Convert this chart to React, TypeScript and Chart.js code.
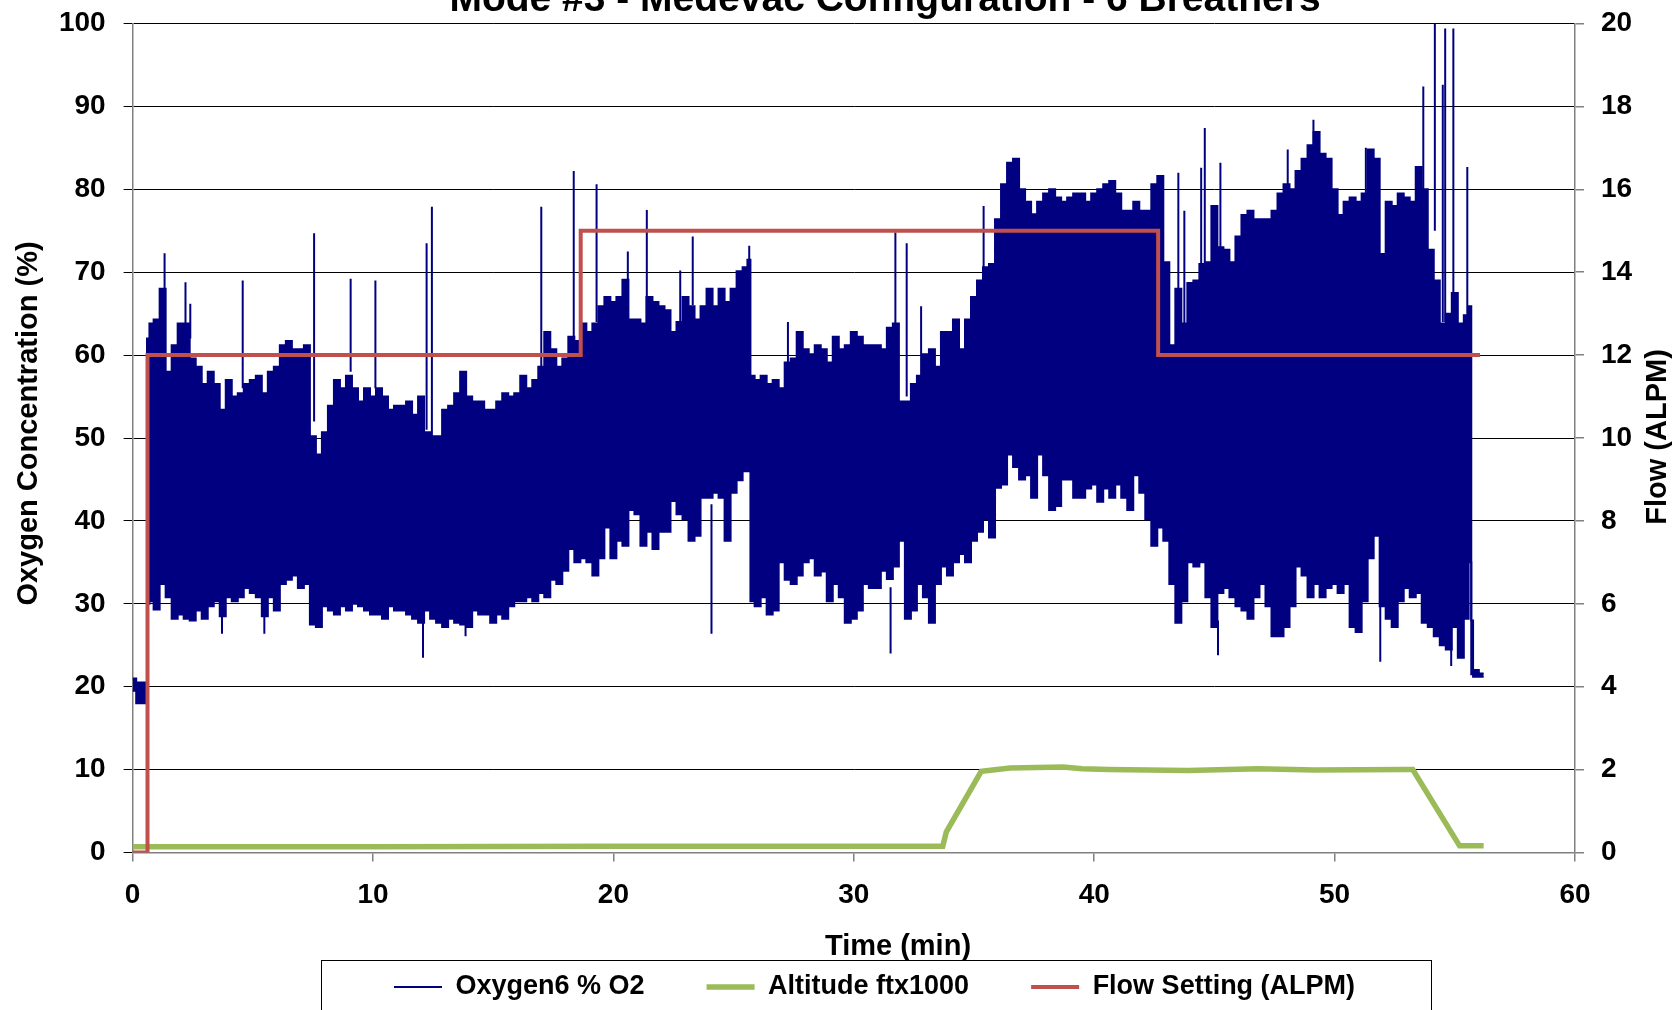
import React, { useEffect, useRef } from 'react';
import { Chart, registerables } from 'chart.js';

Chart.register(...registerables);

// ---------------- text ----------------
const CHART_TITLE = 'Mode #3 - Medevac Configuration - 6 Breathers';
const X_TITLE = 'Time (min)';
const Y_TITLE = 'Oxygen Concentration (%)';
const Y2_TITLE = 'Flow (ALPM)';
const SERIES_O2 = 'Oxygen6 % O2';
const SERIES_ALT = 'Altitude ftx1000';
const SERIES_FLOW = 'Flow Setting (ALPM)';

// ---------------- data ----------------
// Oxygen trace (dense breathing oscillation) read as upper / lower envelope (%)
const O2_TIME = [
  0, 0.3, 0.55, 0.65, 0.75,
  1, 1.25, 1.5, 1.75,
  2, 2.25, 2.5, 2.75,
  3, 3.25, 3.5, 3.75,
  4, 4.25, 4.5, 4.75,
  5, 5.25, 5.5, 5.75,
  6, 6.25, 6.5, 6.75,
  7, 7.25, 7.5, 7.75,
  8, 8.25, 8.5, 8.75,
  9, 9.25, 9.5, 9.75,
  10, 10.25, 10.5, 10.75,
  11, 11.25, 11.5, 11.75,
  12, 12.25, 12.5, 12.75,
  13, 13.25, 13.5, 13.75,
  14, 14.25, 14.5, 14.75,
  15, 15.25, 15.5, 15.75,
  16, 16.25, 16.5, 16.75,
  17, 17.25, 17.5, 17.75,
  18, 18.25, 18.5, 18.75,
  19, 19.25, 19.5, 19.75,
  20, 20.25, 20.5, 20.75,
  21, 21.25, 21.5, 21.75,
  22, 22.25, 22.5, 22.75,
  23, 23.25, 23.5, 23.75,
  24, 24.25, 24.5, 24.75,
  25, 25.25, 25.5, 25.65, 25.75,
  26, 26.25, 26.5, 26.75,
  27, 27.25, 27.5, 27.75,
  28, 28.25, 28.5, 28.75,
  29, 29.25, 29.5, 29.75,
  30, 30.25, 30.5, 30.75,
  31, 31.25, 31.5, 31.75,
  32, 32.25, 32.5, 32.75,
  33, 33.25, 33.5, 33.75,
  34, 34.25, 34.5, 34.75,
  35, 35.25, 35.5, 35.75,
  36, 36.25, 36.5, 36.75,
  37, 37.25, 37.5, 37.75,
  38, 38.25, 38.5, 38.75,
  39, 39.25, 39.5, 39.75,
  40, 40.25, 40.5, 40.75,
  41, 41.25, 41.5, 41.75,
  42, 42.25, 42.5, 42.75,
  43, 43.25, 43.5, 43.75,
  44, 44.25, 44.5, 44.75,
  45, 45.25, 45.5, 45.75,
  46, 46.25, 46.5, 46.75,
  47, 47.25, 47.5, 47.75,
  48, 48.25, 48.5, 48.75,
  49, 49.25, 49.5, 49.75,
  50, 50.25, 50.5, 50.75,
  51, 51.25, 51.5, 51.75,
  52, 52.25, 52.5, 52.75,
  53, 53.25, 53.5, 53.75,
  54, 54.25, 54.5, 54.75,
  55, 55.25, 55.5, 55.65, 55.72, 55.8, 56.2,
];
const O2_HIGH = [
  21, 20.5, 20.5, 62, 63.8,
  64.3, 68, 58, 61.2,
  63.8, 63.8, 59.6, 58.6,
  56.5, 58, 56.5, 53.4,
  57, 55, 55.4, 56.5,
  57, 57.5, 55.4, 58,
  58.6, 61.2, 61.7, 60.7,
  60.7, 61.2, 50.2, 48,
  50.7, 53.9, 57, 56,
  57.5, 56, 54.4, 56,
  55, 56, 55, 53.4,
  53.9, 53.9, 54.4, 52.8,
  55, 50.7, 50.2, 50.2,
  53.4, 53.9, 55.4, 58,
  55, 54.4, 54.4, 53.4,
  53.4, 54.4, 55.4, 55,
  55.4, 57.5, 56, 57,
  58.6, 62.8, 60.7, 58.6,
  59.6, 62.2, 61.7, 63.8,
  62.8, 63.8, 65.9, 67,
  66.4, 67, 69.1, 64.3,
  64.3, 63.8, 67, 66.4,
  65.9, 65.4, 62.8, 64,
  67, 65.9, 64.3, 65.9,
  68, 65.9, 68, 66.4,
  68, 70.1, 70.6, 71.5, 57.5,
  57, 57.5, 56.5, 57,
  56, 59.1, 59.6, 62.8,
  60.7, 60.1, 61.2, 60.7,
  59.1, 62.2, 60.7, 61.2,
  62.8, 62.2, 61.2, 61.2,
  61.2, 60.7, 63.3, 63.8,
  54.4, 54.4, 56.5, 57.5,
  60.1, 60.7, 58.6, 62.8,
  62.8, 64.3, 60.7, 64.3,
  67, 69, 70.6, 71,
  76.4, 80.6, 83.2, 83.7,
  80, 78.5, 77, 78.5,
  79.5, 80, 79, 78.5,
  79, 79.5, 79.5, 78.5,
  79.5, 80, 80.6, 81,
  79.5, 77.4, 77.4, 78.5,
  77.4, 77.4, 80.6, 81.6,
  71.2, 61.2, 68, 63.8,
  68.7, 69, 71, 71.2,
  78, 73, 72.7, 71.2,
  74.3, 76.9, 77.4, 76.4,
  76.4, 76.4, 77.4, 79.5,
  80.6, 80, 82.2, 83.7,
  85.3, 86.9, 84.3, 83.7,
  80, 76.9, 78.5, 79,
  78.5, 79.5, 84.8, 83.7,
  72.2, 78.5, 78, 79.5,
  79, 78.5, 82.7, 80,
  72.7, 69, 63.8, 65,
  67.5, 63.8, 64.8, 65.9, 28, 22, 21.6,
];
const O2_LOW = [
  19.5, 18, 18, 30, 30.3,
  29.3, 32.4, 30.8, 28.2,
  28.7, 28.2, 28, 29.2,
  28.2, 29.7, 30.3, 28.5,
  30.8, 30.3, 30.8, 31.9,
  31.3, 30.8, 28.5, 30.8,
  29.2, 32.4, 32.9, 33.4,
  31.9, 32.4, 27.5, 27.2,
  29.7, 29.2, 28.7, 29.7,
  29.2, 30, 29.7, 29.2,
  28.7, 28.7, 28.2, 29.7,
  29.2, 29.2, 28.7, 28.2,
  27.7, 29.2, 28.2, 27.7,
  27.2, 28.2, 27.7, 27.5,
  27.2, 29.2, 28.7, 28.7,
  27.7, 28.7, 28.2, 29.7,
  30.3, 30.3, 30.8, 30.3,
  31.3, 30.8, 32.9, 32.4,
  34, 36.6, 35, 35.5,
  35, 33.4, 35.5, 39.2,
  35.5, 37.6, 37, 41.3,
  40.8, 37, 38.7, 36.6,
  38.7, 38.7, 42.4, 40.8,
  40.2, 37.6, 38.2, 42.8,
  42.8, 43.4, 42.8, 37.6,
  43.4, 44.9, 46, 46, 30.3,
  29.7, 30.8, 28.7, 29.2,
  35, 32.9, 32.4, 33.4,
  35, 35.5, 33.4, 33.9,
  30.3, 32.4, 30.8, 27.7,
  28.2, 29.2, 32.4, 31.9,
  31.9, 34, 33, 34.5,
  37.6, 28.2, 29.2, 32.4,
  30.8, 27.7, 32.4, 34.5,
  33.4, 35, 36, 35,
  37.6, 38.7, 40.2, 38,
  44, 44.4, 48, 46.5,
  45, 45.5, 42.8, 48,
  45.5, 41.3, 41.8, 45,
  45, 42.8, 42.8, 43.9,
  44.4, 42.3, 43.9, 42.8,
  44.4, 42.8, 41.3, 45.5,
  43.4, 40.2, 37, 39.2,
  37.6, 32.4, 27.7, 30.3,
  35, 34.5, 35, 30.8,
  27.2, 31.3, 31.9, 30.8,
  29.7, 29.2, 28.2, 30.8,
  32.4, 29.7, 26.1, 26.1,
  27.2, 29.7, 34.5, 33.4,
  30.8, 32.4, 30.8, 31.9,
  32.4, 31.3, 32.4, 27.2,
  26.6, 30.3, 35.5, 38.2,
  29.7, 28.2, 27.2, 30.3,
  31.9, 30.8, 31.3, 27.7,
  27.2, 26.1, 25, 24.5,
  27.2, 23.5, 28.2, 35, 21.5, 21.2, 21.2,
];

// isolated upward oxygen spikes: time, band top, peak
const SPIKE_TIME = [1.33, 2.2, 2.4, 4.58, 7.55, 9.07, 10.1, 12.23, 12.45, 17.0, 18.35, 19.3, 20.6, 21.39, 22.78, 23.3, 25.65, 27.26, 31.73, 32.2, 32.8, 35.4, 43.5, 43.75, 44.45, 44.6, 45.25, 48.05, 49.12, 51.3, 53.69, 54.17, 54.5, 54.6, 54.94, 55.52];
const SPIKE_BASE = [65, 63, 62, 56, 52, 58, 56, 51, 50, 58, 62, 64, 68, 64, 63, 66, 70, 57, 62, 55, 57, 69, 62, 62, 65, 65, 70, 80, 85, 79, 80, 75, 64, 64, 65, 64];
const SPIKE_PEAK = [72.3, 68.8, 66.2, 69, 74.7, 69.2, 69, 73.5, 77.9, 77.9, 82.2, 80.6, 72.5, 77.5, 70.2, 74.3, 73.2, 64, 74.8, 73.5, 65.9, 78, 82, 77.4, 82.6, 87.4, 83.2, 84.8, 88.4, 85, 92.4, 100, 92.6, 99.4, 99.4, 82.7];

// isolated downward oxygen dips: time, minimum, band bottom
const DIP_TIME = [3.72, 5.48, 12.08, 13.85, 24.08, 31.53, 45.15, 51.9, 54.85];
const DIP_LOW = [26.4, 26.4, 23.5, 26.1, 26.4, 24, 23.8, 23, 22.5];
const DIP_BASE = [29, 29, 29, 28, 42, 32, 28, 30, 25];

// Altitude (ft x 1000)
const ALT_TIME = [0, 10, 20, 33.7, 33.85, 35.3, 35.6, 36.5, 38.7, 39.5, 40.6, 43.9, 46.8, 49.2, 52.9, 53.25, 55.2, 56.2];
const ALT_VALUE = [0.7, 0.7, 0.75, 0.75, 2.5, 9.8, 9.9, 10.2, 10.3, 10.1, 10.0, 9.9, 10.1, 9.95, 10.0, 10.0, 0.8, 0.8];

// Flow setting (ALPM), stepped
const FLOW_TIME = [0, 0.62, 18.64, 42.66, 56.05];
const FLOW_VALUE = [0, 12, 15, 12, 12];

// ---------------- styling ----------------
const NAVY = '#000080';
const GREEN = '#9BBB59';
const RED = '#C0504D';
const AXIS_GRAY = '#808080';
const FONT_FAMILY = "'Liberation Sans', Arial, Helvetica, sans-serif";

const CANVAS_W = 1677;
const CANVAS_H = 1096;
const SHIFT = 30; // canvas is pushed up so the title is cut off like in the reference

const LEGEND_FONT = 27;
const LEGEND_PAD = 62;
const LEGEND_X0 = 394;
const LEGEND_TEXT_Y = 987 + SHIFT;
const LEGEND_LINE_WIDTHS = [2, 5.5, 4];

function toPoints(xs: number[], ys: number[]) {
  return xs.map((x, i) => ({ x, y: ys[i] }));
}
function toSegments(xs: number[], from: number[], to: number[]) {
  const out: any[] = [];
  xs.forEach((x, i) => {
    out.push({ x, y: from[i] }, { x, y: to[i] }, { x, y: null });
  });
  return out;
}

const decorPlugin = {
  id: 'decor',
  beforeDraw(chart: any) {
    const lg = chart.legend;
    if (lg && lg.lineWidths) {
      const right = CANVAS_W;
      const left = 2 * LEGEND_X0 - LEGEND_PAD - right + lg.lineWidths[0];
      lg.left = left;
      lg.right = right;
      lg.width = right - left;
      lg.top = LEGEND_TEXT_Y - LEGEND_PAD - LEGEND_FONT / 2;
      lg.bottom = CANVAS_H;
      lg.height = lg.bottom - lg.top;
    }
  },
  afterDraw(chart: any) {
    const ctx = chart.ctx;
    ctx.save();
    ctx.fillStyle = '#000';
    ctx.textAlign = 'center';
    ctx.textBaseline = 'alphabetic';

    ctx.font = `bold 39px ${FONT_FAMILY}`;
    ctx.fillText(CHART_TITLE, 885, 11 + SHIFT);

    ctx.font = `bold 29px ${FONT_FAMILY}`;
    ctx.fillText(X_TITLE, 898, 955 + SHIFT);

    ctx.save();
    ctx.translate(37, 423.5 + SHIFT);
    ctx.rotate(-Math.PI / 2);
    ctx.fillText(Y_TITLE, 0, 0);
    ctx.restore();

    ctx.save();
    ctx.translate(1666, 437 + SHIFT);
    ctx.rotate(-Math.PI / 2);
    ctx.fillText(Y2_TITLE, 0, 0);
    ctx.restore();

    ctx.strokeStyle = '#000';
    ctx.lineWidth = 1;
    ctx.strokeRect(321.5, 960.5 + SHIFT, 1110, 300);
    ctx.restore();
  },
};

export default function App() {
  const ref = useRef<HTMLCanvasElement | null>(null);

  useEffect(() => {
    const canvas = ref.current;
    if (!canvas) return;
    const tickFont = { family: FONT_FAMILY, size: 28, weight: 'bold' as const };

    const chart = new Chart(canvas, {
      type: 'line',
      data: {
        datasets: [
          {
            label: SERIES_O2,
            data: toPoints(O2_TIME, O2_HIGH),
            borderColor: NAVY,
            backgroundColor: NAVY,
            borderWidth: 2,
            pointRadius: 0,
            stepped: 'middle',
            fill: '+1',
            yAxisID: 'y',
            order: 3,
          },
          {
            label: '_o2low',
            data: toPoints(O2_TIME, O2_LOW),
            borderColor: NAVY,
            backgroundColor: NAVY,
            borderWidth: 2,
            pointRadius: 0,
            stepped: 'middle',
            fill: false,
            yAxisID: 'y',
            order: 4,
          },
          {
            label: '_o2spikes',
            data: toSegments(SPIKE_TIME, SPIKE_BASE, SPIKE_PEAK),
            borderColor: NAVY,
            borderWidth: 2,
            pointRadius: 0,
            spanGaps: false,
            fill: false,
            yAxisID: 'y',
            order: 2,
          },
          {
            label: '_o2dips',
            data: toSegments(DIP_TIME, DIP_LOW, DIP_BASE),
            borderColor: NAVY,
            borderWidth: 2,
            pointRadius: 0,
            spanGaps: false,
            fill: false,
            yAxisID: 'y',
            order: 2,
          },
          {
            label: SERIES_ALT,
            data: toPoints(ALT_TIME, ALT_VALUE),
            borderColor: GREEN,
            backgroundColor: GREEN,
            borderWidth: 5.5,
            pointRadius: 0,
            tension: 0,
            fill: false,
            yAxisID: 'y',
            order: 1,
          },
          {
            label: SERIES_FLOW,
            data: toPoints(FLOW_TIME, FLOW_VALUE),
            borderColor: RED,
            backgroundColor: RED,
            borderWidth: 4,
            pointRadius: 0,
            stepped: true,
            fill: false,
            yAxisID: 'y1',
            order: 0,
          },
        ] as any,
      },
      options: {
        responsive: false,
        animation: false,
        devicePixelRatio: 1,
        layout: { padding: { top: 23.5 + SHIFT, left: 0, right: 0, bottom: 0 } },
        scales: {
          x: {
            type: 'linear',
            min: 0,
            max: 60,
            offset: false,
            ticks: { stepSize: 10, color: '#000', font: tickFont, padding: 17, maxRotation: 0 },
            grid: { drawOnChartArea: false, drawTicks: true, tickLength: 9, color: AXIS_GRAY, lineWidth: 1.5 },
            border: { color: AXIS_GRAY, width: 1.5 },
            title: { display: false },
            afterFit(scale: any) {
              scale.height = 114.5;
            },
          },
          y: {
            type: 'linear',
            position: 'left',
            min: 0,
            max: 100,
            ticks: { stepSize: 10, color: '#000', font: tickFont, padding: 18 },
            grid: { color: '#000', lineWidth: 1, tickLength: 9 },
            border: { color: AXIS_GRAY, width: 1.5 },
            title: { display: false },
            afterFit(scale: any) {
              scale.width = 132.6;
            },
          },
          y1: {
            type: 'linear',
            position: 'right',
            min: 0,
            max: 20,
            ticks: { stepSize: 2, color: '#000', font: tickFont, padding: 17 },
            grid: { drawOnChartArea: false, tickLength: 9, color: AXIS_GRAY, lineWidth: 1.5 },
            border: { color: AXIS_GRAY, width: 1.5 },
            title: { display: false },
            afterFit(scale: any) {
              scale.width = 102;
            },
          },
        },
        plugins: {
          title: { display: false },
          tooltip: { enabled: false },
          legend: {
            display: true,
            position: 'bottom',
            align: 'center',
            labels: {
              usePointStyle: true,
              pointStyle: 'line',
              pointStyleWidth: 48,
              padding: LEGEND_PAD,
              color: '#000',
              font: { family: FONT_FAMILY, size: LEGEND_FONT, weight: 'bold' },
              generateLabels(c: any) {
                const base = (Chart.defaults.plugins.legend.labels as any).generateLabels(c);
                const named = [SERIES_O2, SERIES_ALT, SERIES_FLOW];
                return base
                  .filter((it: any) => named.includes(it.text))
                  .sort((a: any, b: any) => named.indexOf(a.text) - named.indexOf(b.text))
                  .map((it: any) => ({ ...it, lineWidth: LEGEND_LINE_WIDTHS[named.indexOf(it.text)] }));
              },
            },
          },
        },
      } as any,
      plugins: [decorPlugin],
    });
    return () => chart.destroy();
  }, []);

  return (
    <div
      style={{
        position: 'fixed',
        left: 0,
        top: 0,
        width: CANVAS_W,
        height: 1010,
        overflow: 'hidden',
        background: '#fff',
      }}
    >
      <canvas
        ref={ref}
        width={CANVAS_W}
        height={CANVAS_H}
        style={{ position: 'absolute', left: 0, top: -SHIFT, width: CANVAS_W, height: CANVAS_H }}
      />
    </div>
  );
}
